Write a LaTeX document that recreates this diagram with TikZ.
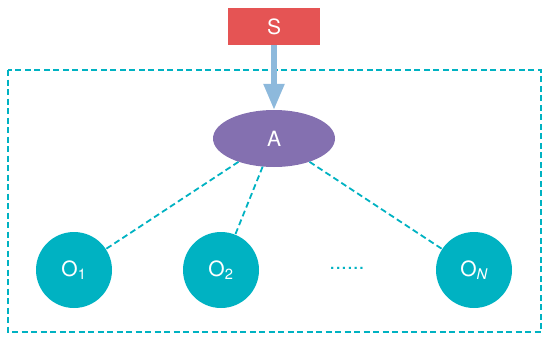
\documentclass[tikz,border=0pt]{standalone}
\usepackage{fontspec}
\setmainfont{TeX Gyre Heros}
\usetikzlibrary{arrows.meta}
\usetikzlibrary{shapes.geometric}
\definecolor{srcred}{HTML}{E55454}
\definecolor{agentpurple}{HTML}{8470B0}
\definecolor{objteal}{HTML}{00B2C2}
\definecolor{flowblue}{HTML}{8DB9DC}
\tikzstyle{every picture}=[x=1pt, y=-1pt]
\tikzstyle{labelfont}=[text=white, font=\fontsize{21}{25}\selectfont]
\tikzstyle{srcbox}=[rectangle, fill=srcred, minimum width=92pt, minimum height=37pt, inner sep=0pt, labelfont]
\tikzstyle{agentnode}=[ellipse, fill=agentpurple, minimum width=122pt, minimum height=57pt, inner sep=0pt, labelfont]
\tikzstyle{objnode}=[circle, fill=objteal, minimum size=76pt, inner sep=0pt, labelfont]
\tikzstyle{link}=[draw=objteal, line width=1.8pt, dash pattern=on 6pt off 3.5pt]
\tikzstyle{envframe}=[draw=objteal, line width=1.8pt, dash pattern=on 6pt off 3.5pt]
\tikzstyle{flow}=[draw=flowblue, line width=5.5pt, -{Triangle[width=20pt,length=26pt]}]

\begin{document}
\begin{tikzpicture}
	\useasboundingbox (0,0) rectangle (543,337);

	\draw[envframe] (8,70) rectangle (541,332);

	\path (274,26.5) node[srcbox] (s) {S}
	      (274,138.5) node[agentnode] (a) {A}
	      (74,270) node[objnode] (o_1) {O\textsubscript{1}}
	      (221,270) node[objnode] (o_2) {O\textsubscript{2}}
	      (474,270) node[objnode] (o_n) {O\textsubscript{\itshape N}}
	      (347,268) node[labelfont, text=objteal] (more) {......};

	\draw[flow] (s) -- (a);
	\draw[link] (a) -- (o_1);
	\draw[link] (a) -- (o_2);
	\draw[link] (a) -- (o_n);

\end{tikzpicture}
\end{document}
